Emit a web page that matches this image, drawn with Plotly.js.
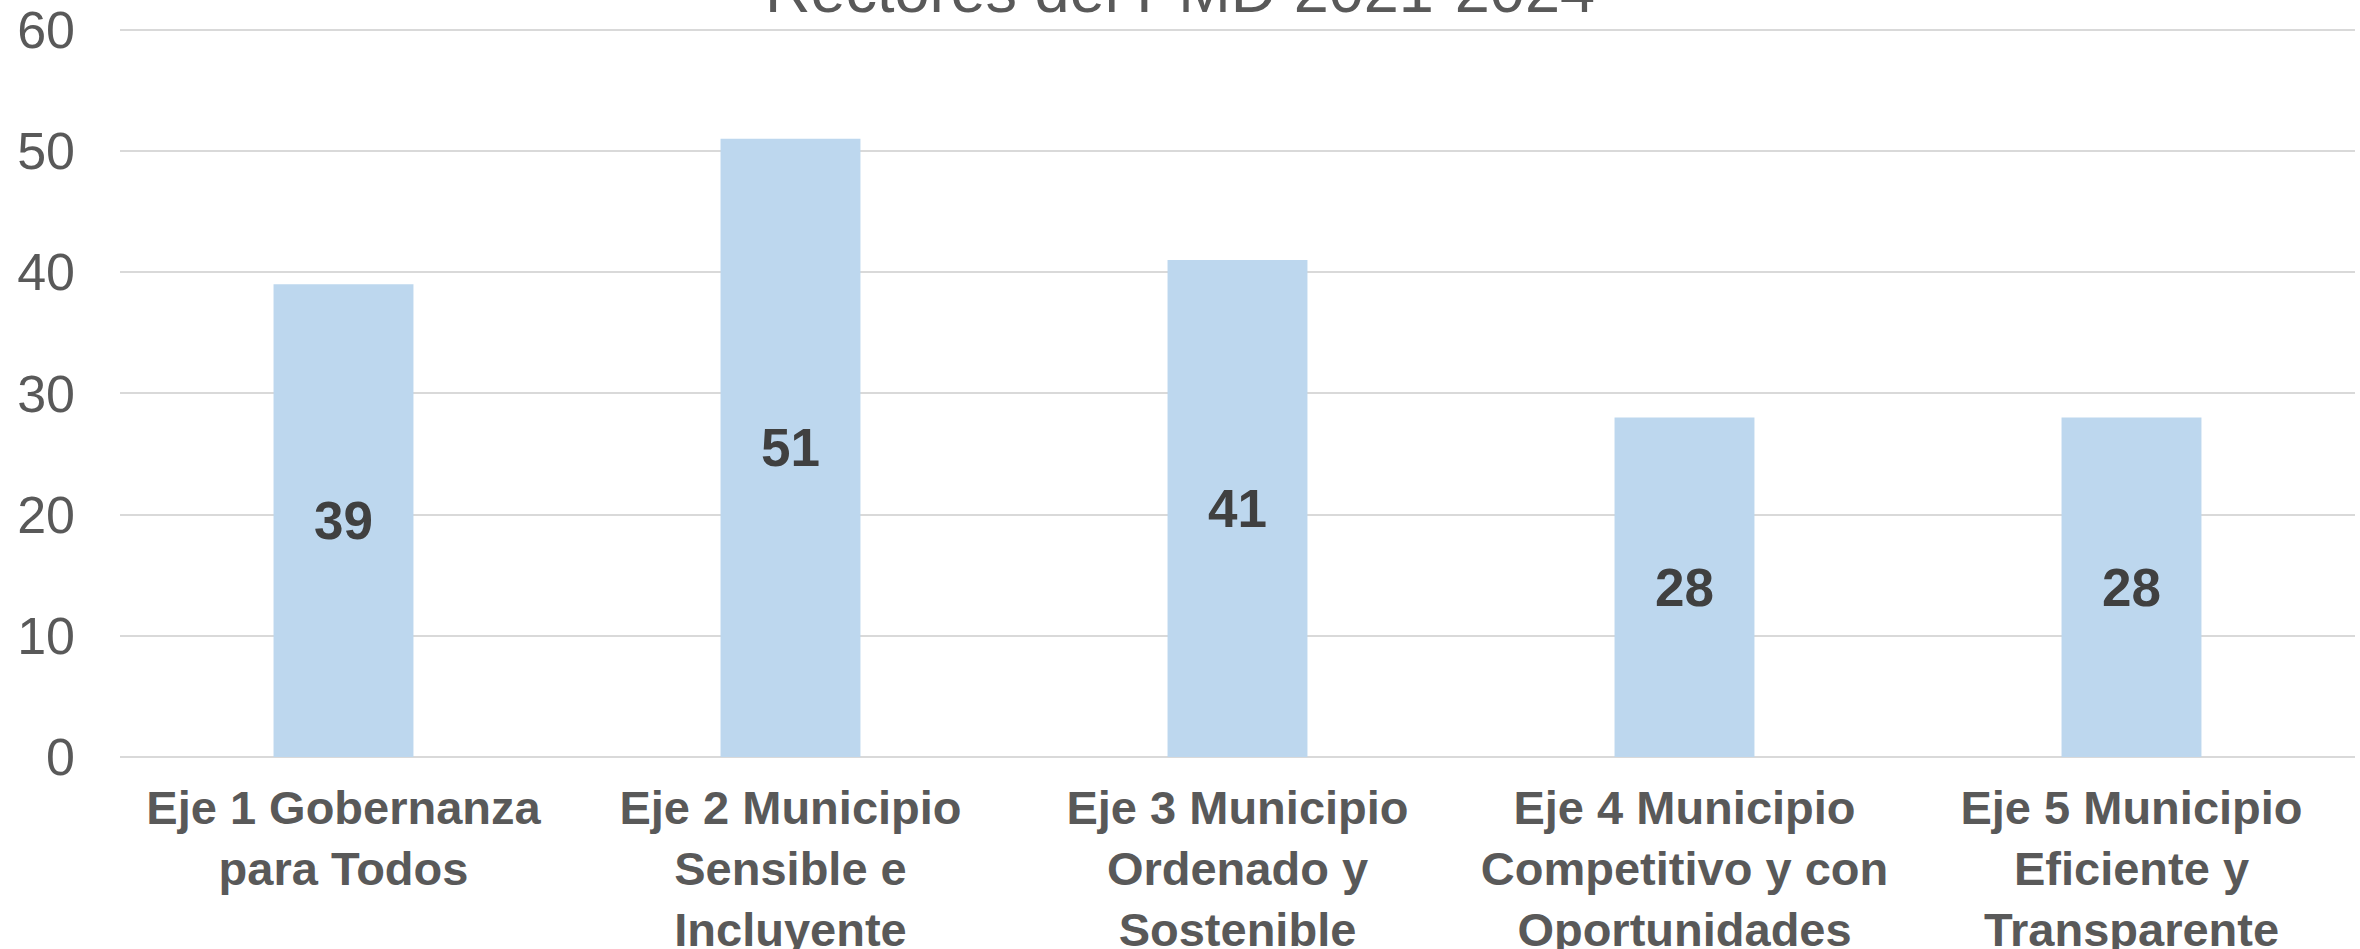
<!DOCTYPE html>
<html>
<head>
<meta charset="utf-8">
<script src="https://cdn.plot.ly/plotly-3.0.1.min.js"></script>
<style>html,body{margin:0;padding:0;background:#fff;}#chart{width:2360px;height:949px;}</style>
</head>
<body>
<div id="chart"></div>
<script>
const categories = ["Eje 1", "Eje 2", "Eje 3", "Eje 4", "Eje 5"];
const tickLabels = [
  "Eje 1 Gobernanza<br>para Todos",
  "Eje 2 Municipio<br>Sensible e<br>Incluyente",
  "Eje 3 Municipio<br>Ordenado y<br>Sostenible",
  "Eje 4 Municipio<br>Competitivo y con<br>Oportunidades",
  "Eje 5 Municipio<br>Eficiente y<br>Transparente"
];
const values = [39, 51, 41, 28, 28];
const yTicks = [0, 10, 20, 30, 40, 50, 60];
const titleText = "Rectores del PMD 2021-2024";

const trace = {
  type: "bar",
  x: categories,
  y: values,
  text: values.map(String),
  textposition: "inside",
  insidetextanchor: "middle",
  constraintext: "none",
  textfont: {family: "Liberation Sans, Arial, sans-serif", size: 53, color: "#404040", weight: "bold"},
  marker: {color: "#BDD7EE"},
  hoverinfo: "none"
};

const layout = {
  width: 2360,
  height: 949,
  margin: {l: 120, r: 5, t: 26, b: 192},
  paper_bgcolor: "#ffffff",
  plot_bgcolor: "#ffffff",
  bargap: 0.687,
  showlegend: false,
  annotations: [{
    text: titleText,
    font: {family: "Liberation Sans, Arial, sans-serif", size: 63, color: "#595959"},
    xref: "paper", x: 0.4743, xanchor: "center",
    yref: "paper", y: 1.0, yanchor: "bottom",
    showarrow: false, borderpad: 0
  }],
  xaxis: {
    type: "category",
    tickvals: categories,
    ticktext: tickLabels,
    tickfont: {family: "Liberation Sans, Arial, sans-serif", size: 47, color: "#595959", weight: "bold"},
    showgrid: false,
    showline: false,
    zeroline: false,
    ticks: "",
    ticklabelstandoff: 19,
    tickangle: 0
  },
  yaxis: {
    range: [0, 60.3],
    tickvals: yTicks,
    ticktext: yTicks.map(String),
    tickfont: {family: "Liberation Sans, Arial, sans-serif", size: 52, color: "#595959"},
    showgrid: true,
    gridcolor: "#D9D9D9",
    gridwidth: 2,
    zeroline: true,
    zerolinecolor: "#D9D9D9",
    zerolinewidth: 2,
    showline: false,
    ticks: "",
    ticklabelstandoff: 44
  }
};

Plotly.newPlot("chart", [trace], layout, {displayModeBar: false, staticPlot: true});
</script>
</body>
</html>
